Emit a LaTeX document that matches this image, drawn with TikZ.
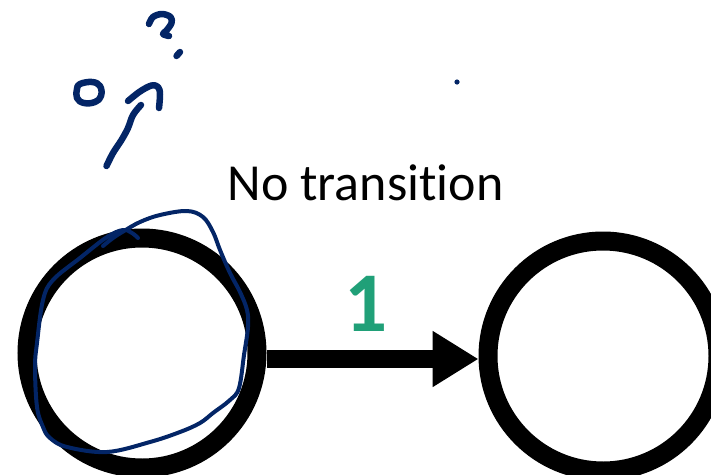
\documentclass[tikz,border=0pt]{standalone}
\usepackage{fontspec}
\setmainfont{Carlito}[Ligatures=NoCommon]
\usetikzlibrary{arrows.meta}
\definecolor{ink}{RGB}{3,37,102}
\definecolor{labelgreen}{RGB}{32,160,120}
\tikzset{
  state/.style={circle, draw=black, line width=19pt, minimum size=230pt, inner sep=0pt},
  transition/.style={draw=black, line width=18pt, -{Triangle[length=46pt,width=53pt]}},
  pen/.style={ink, line width=6.5pt, line cap=round, line join=round},
  thinpen/.style={ink, line width=4pt, line cap=round, line join=round},
}
\begin{document}
\begin{tikzpicture}[x=1pt,y=-1pt]
\useasboundingbox (0,0) rectangle (711,474);
\clip (0,0) rectangle (711,474);

% states
\node[state] (q0) at (142,353) {};
\node[state] (q1) at (603,356) {};

% transition
\coordinate (row) at (0,359);
\draw[transition] (q0.east |- row) -- (q1.west |- row);
\node[anchor=base, text=labelgreen, font=\fontsize{85}{90}\selectfont\bfseries, inner sep=0pt] (lbl) at (366.5,331) {1};

% caption
\node[anchor=base, font=\fontsize{52}{60}\selectfont, inner sep=0pt] (cap) at (365.5,200) {No transition};

% handwritten annotations
\draw[thinpen] plot[smooth, tension=0.6] coordinates {
  (103,246) (113,238) (124,231) (140,222) (160,215) (187,211) (203,217)
  (213,232) (220,250) (230,273) (240,292) (247,310) (248,327) (244,355)
  (239,388) (230,400) (213,413) (200,423) (180,432) (150,442) (107,452)
  (67,447) (50,438) (43,427) (37,407) (35,367) (37,343) (43,300) (53,280)
  (80,258) (107,237) (123,230) (132,233) (138,238)};

\draw[pen] plot[smooth cycle, tension=0.7] coordinates {
  (80,84) (92,82) (100,86) (101,96) (95,102) (84,103) (77,98) (77,89)};

\draw[pen] plot[smooth, tension=0.6] coordinates {
  (106.5,166) (113,153) (121.5,140) (128,128) (133,115) (141,105)};
\draw[pen] plot[smooth, tension=0.6] coordinates {
  (128,101) (140,91.5) (151.5,85.5) (158,87) (160,94) (159,108)};

\draw[pen] plot[smooth, tension=0.6] coordinates {
  (149,24) (153,17) (162,14) (170.5,17) (171.5,23) (166.5,30.5) (163,34) (169,36)};
\draw[pen] (176.5,56) -- (180,52);

\fill[ink] (457,82) circle (2.6);
\end{tikzpicture}
\end{document}
